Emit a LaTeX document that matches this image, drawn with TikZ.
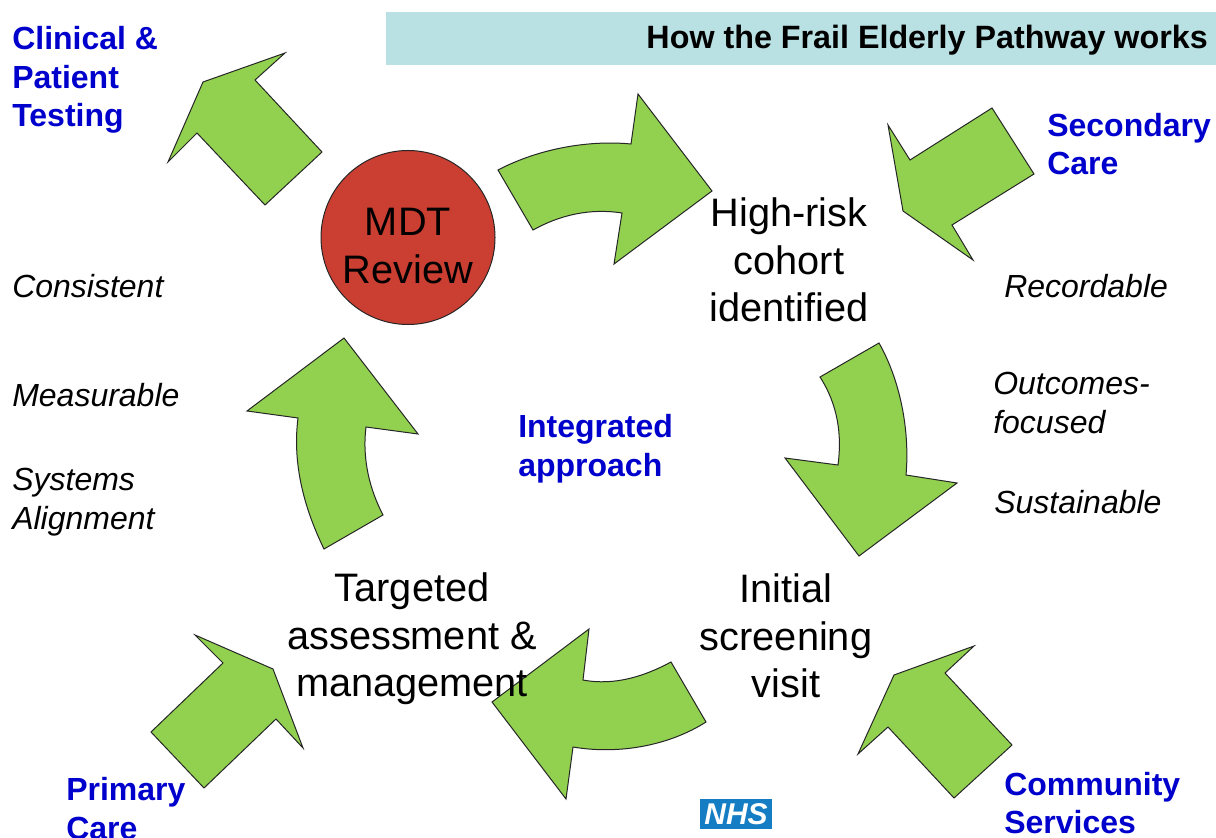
\documentclass[tikz,border=0pt]{standalone}
\definecolor{arrowgreen}{RGB}{146, 208, 80}
\definecolor{mdtred}{RGB}{203, 62, 50}
\definecolor{bandblue}{RGB}{185, 224, 227}
\definecolor{headblue}{RGB}{0, 0, 204}
\definecolor{nhsblue}{RGB}{20, 125, 195}
\usepackage{fontspec}
\setmainfont{Liberation Sans}
\usetikzlibrary{shapes, positioning}

\begin{document}
\begin{tikzpicture}[x=0.75pt, y=-0.75pt,
  blockarrow/.style={draw=black!85, fill=arrowgreen, line width=0.75pt, line join=miter},
  headtext/.style={inner sep=0pt, align=left, anchor=west, text=headblue, font=\fontsize{24}{29}\selectfont\bfseries},
  steptext/.style={inner sep=0pt, align=center, font=\fontsize{29.8}{35.6}\selectfont},
  sidetext/.style={inner sep=0pt, align=left, anchor=west, font=\fontsize{24}{29.5}\selectfont\itshape}]
  \useasboundingbox (0,0) rectangle (1216,838);
  \clip (0,0) rectangle (1216,838);

  % title band
  \fill[bandblue] (386,12) rectangle (1216,65);
  \node[inner sep=0pt, anchor=east, font=\fontsize{24.2}{28}\selectfont\bfseries] (title) at (1208,40) {How the Frail Elderly Pathway works};

  % straight arrows
  \draw[blockarrow] (285,53) -- (255,80) -- (322,152) -- (265,205) -- (197,133) -- (168,162) -- (203,82) -- cycle;
  \draw[blockarrow] (992,108) -- (1034,174) -- (952,225) -- (973,260) -- (903,211) -- (888,125) -- (910,160) -- cycle;
  \draw[blockarrow] (974,646) -- (945,673) -- (1012,745) -- (954,798) -- (888,727) -- (858,754) -- (894,675) -- cycle;
  \draw[blockarrow] (195,635) -- (223,663) -- (151,732) -- (204,788) -- (276,719) -- (303,748) -- (273,669) -- cycle;

  % curved arrows
  \draw[blockarrow] (498,170) .. controls (540,148) and (590,140) .. (631,144) -- (638,94) -- (712,191) -- (614,264) -- (622,213) .. controls (590,208) and (560,215) .. (533,230) -- cycle;
  \draw[blockarrow] (879,343) .. controls (900,380) and (910,430) .. (906,475) -- (957,483) -- (859,556) -- (785,458) -- (838,465) .. controls (842,435) and (838,405) .. (820,377) -- cycle;
  \draw[blockarrow] (671,662) .. controls (645,676) and (615,686) .. (583,680) -- (589,629) -- (492,702) -- (566,799) -- (573,747) .. controls (620,755) and (670,745) .. (706,722) -- cycle;
  \draw[blockarrow] (324,549) .. controls (305,510) and (292,465) .. (298,418) -- (247,411) -- (344,338) -- (418,434) -- (366,427) .. controls (362,460) and (370,490) .. (383,515) -- cycle;

  % review circle
  \node[circle, draw=black!85, fill=mdtred, line width=0.75pt, minimum size=130.5pt, inner sep=0pt] (mdt) at (408,237.5) {};
  \node[steptext] (mdtlabel) at (408,246) {MDT\\Review};

  % pathway steps
  \node[steptext] (cohort) at (789,260) {High-risk\\cohort\\identified};
  \node[steptext] (screening) at (786,636) {Initial\\screening\\visit};
  \node[steptext] (assessment) at (412,639) {Targeted\\assessment \&\\management};

  % blue headings
  \node[headtext] (clinical) at (12,80) {Clinical \&\\Patient\\Testing};
  \node[headtext] (secondary) at (1047,144) {Secondary\\Care};
  \node[headtext] (integrated) at (518,449) {Integrated\\approach};
  \node[headtext] (community) at (1004,803) {Community\\Services};
  \node[headtext, anchor=north west] (primary) at (66,777) {Primary\\Care};

  % italic notes
  \node[sidetext] (consistent) at (12,286) {Consistent};
  \node[sidetext] (measurable) at (12,395) {Measurable};
  \node[sidetext] (systems) at (12,502) {Systems\\Alignment};
  \node[sidetext] (recordable) at (1004,286) {Recordable};
  \node[sidetext] (outcomes) at (993,403) {Outcomes-\\focused};
  \node[sidetext] (sustainable) at (994,502) {Sustainable};

  % logo
  \node[fill=nhsblue, text=white, minimum width=54pt, minimum height=22.5pt, inner sep=0pt, font=\fontsize{22.5}{22.5}\selectfont\bfseries\itshape] (nhs) at (736,814) {NHS};
\end{tikzpicture}
\end{document}
